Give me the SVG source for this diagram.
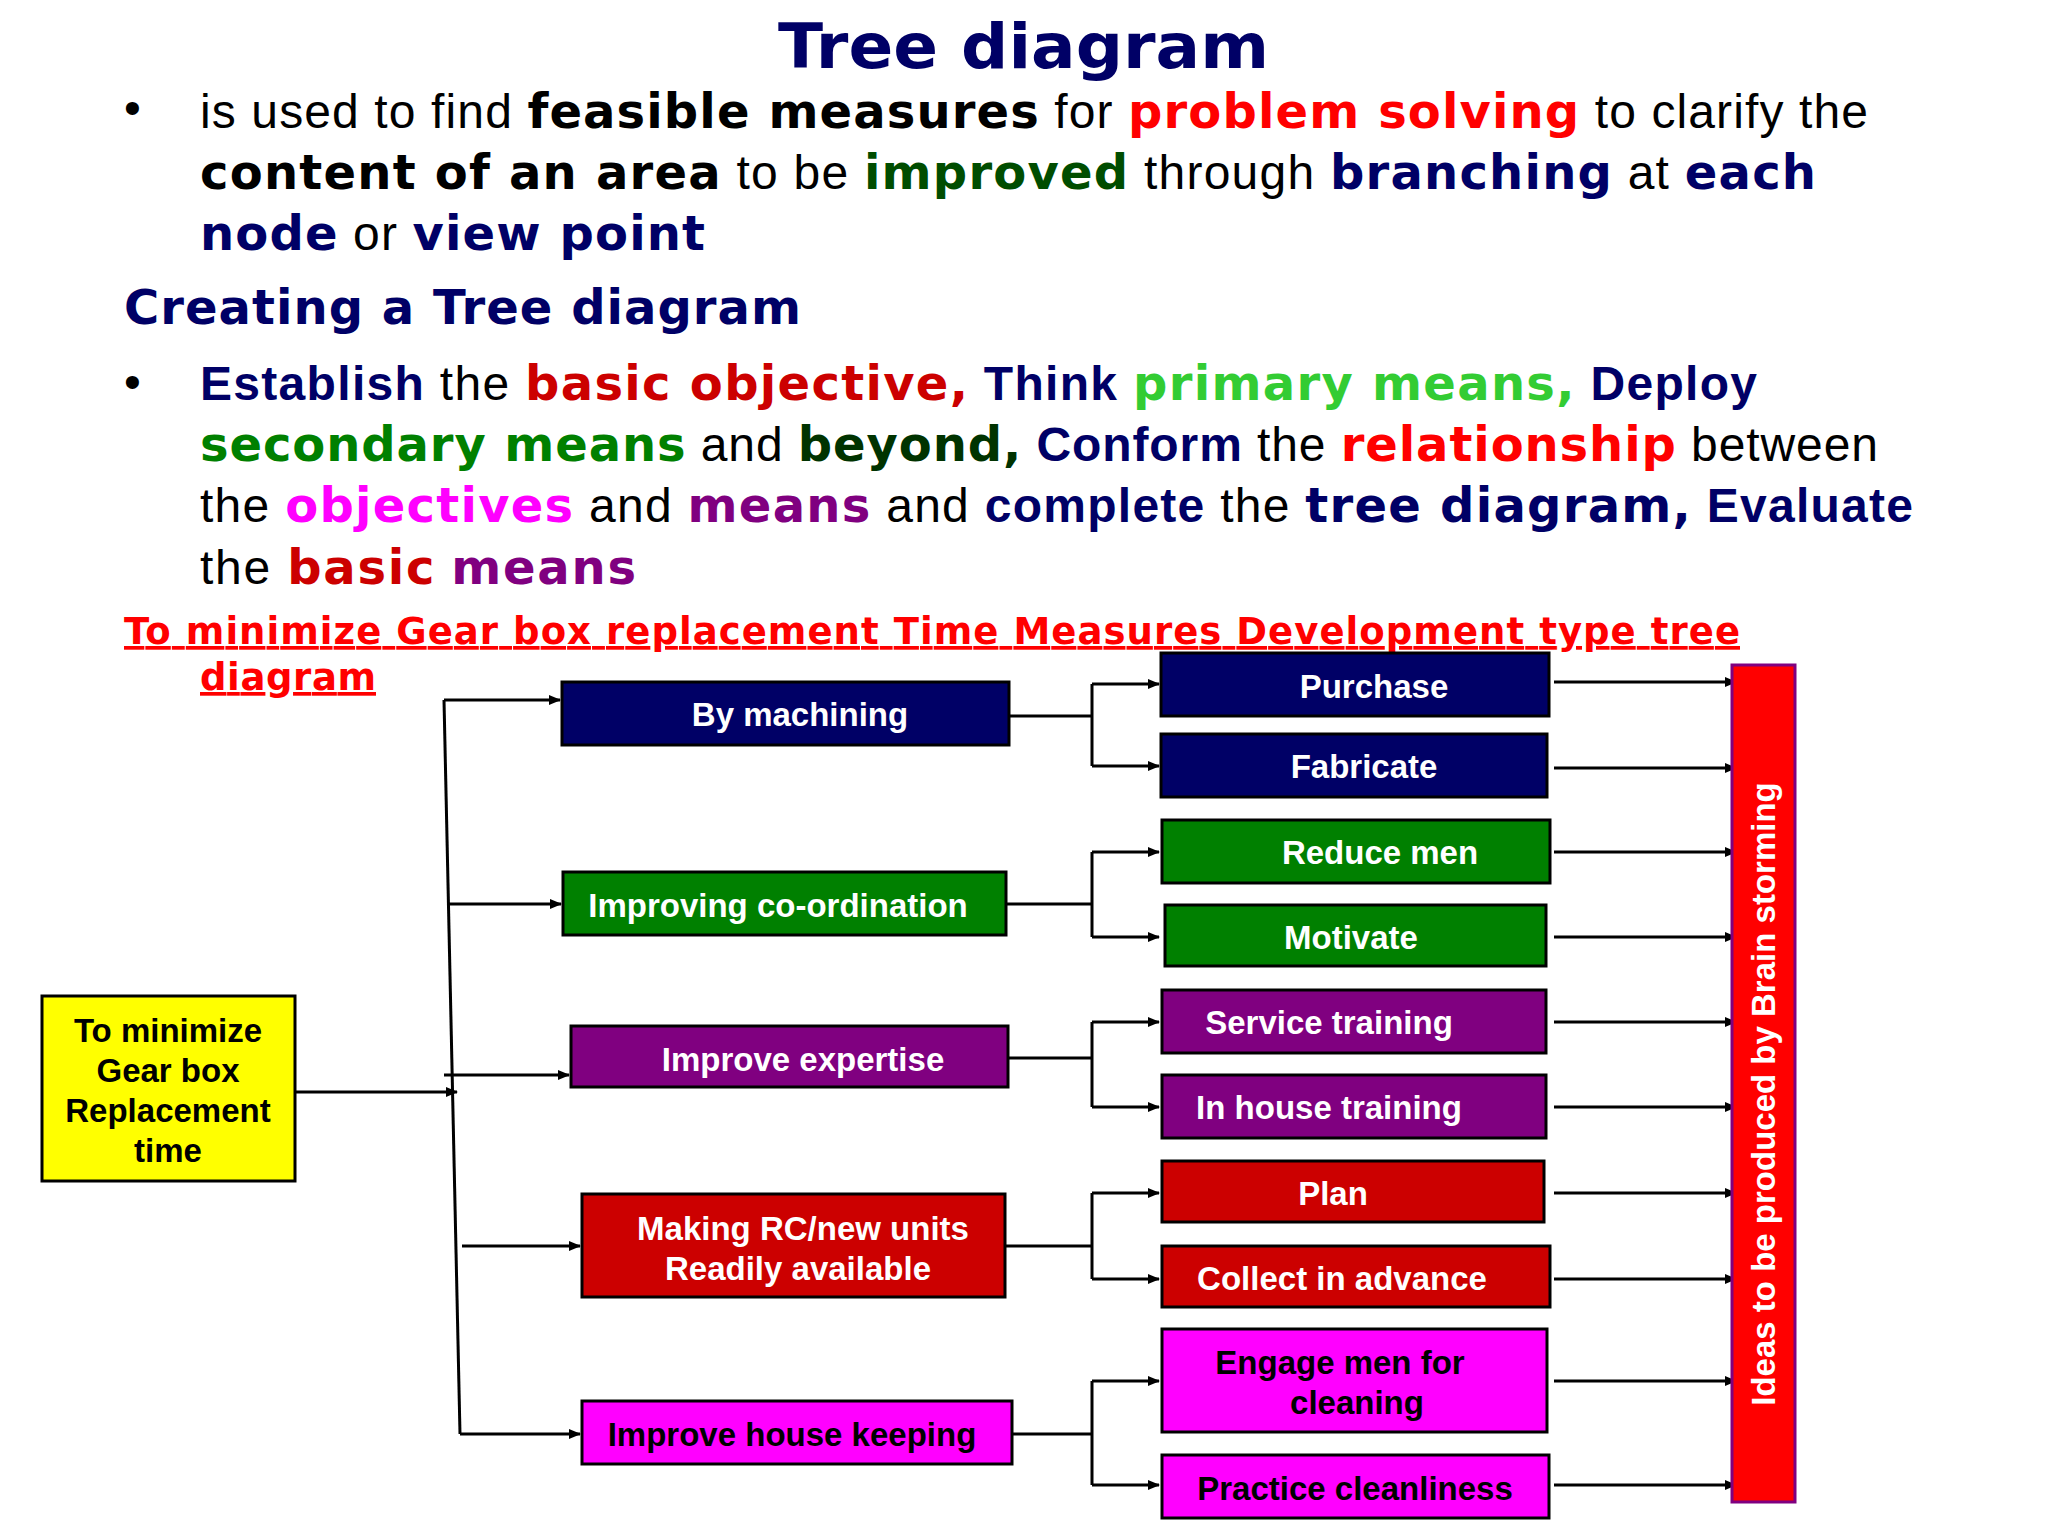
<svg xmlns="http://www.w3.org/2000/svg" width="2048" height="1536" viewBox="0 0 2048 1536">
<style>
.t{font-family:"Liberation Sans",Arial,sans-serif;font-size:48px;fill:#000}
.b{font-family:"DejaVu Sans",Verdana,sans-serif;font-weight:bold}
.ab{font-weight:bold}
.bx{stroke:#000;stroke-width:3}
.lb{font-family:"Liberation Sans",Arial,sans-serif;font-weight:bold;font-size:33px;fill:#fff;text-anchor:middle}
.ln{stroke:#000;stroke-width:3;fill:none}
.nv{fill:#000066}.rd{fill:#ff0000}.dr{fill:#cc0000}.dg{fill:#004d00}.lg{fill:#33cc33}.gr{fill:#008000}.mg{fill:#ff00ff}.pu{fill:#800080}
</style>
<defs><marker id="a" markerWidth="12" markerHeight="10" refX="11" refY="5" orient="auto" markerUnits="userSpaceOnUse"><path d="M0,0 L12,5 L0,10 z" fill="#000"/></marker></defs>
<rect width="2048" height="1536" fill="#fff"/>
<text x="778" y="68" class="b nv" font-size="63" textLength="491" lengthAdjust="spacingAndGlyphs">Tree diagram</text>
<text x="124" y="124" class="t">•</text>
<text x="200" y="128" class="t" textLength="1668">is used to find <tspan class="b">feasible measures</tspan> for <tspan class="b rd">problem solving</tspan> to clarify the</text>
<text x="200" y="189" class="t" textLength="1616"><tspan class="b">content of an area</tspan> to be <tspan class="b dg">improved</tspan> through <tspan class="b nv">branching</tspan> at <tspan class="b nv">each</tspan></text>
<text x="200" y="250" class="t" textLength="505"><tspan class="b nv">node</tspan> or <tspan class="b nv">view point</tspan></text>
<text x="124" y="324" class="t b nv" textLength="677">Creating a Tree diagram</text>
<text x="124" y="398" class="t">•</text>
<text x="200" y="400" class="t" textLength="1557"><tspan class="nv ab">Establish</tspan> the <tspan class="b dr">basic objective,</tspan> <tspan class="nv ab">Think</tspan> <tspan class="b lg">primary means,</tspan> <tspan class="nv ab">Deploy</tspan></text>
<text x="200" y="461" class="t" textLength="1678"><tspan class="b gr">secondary means</tspan> and <tspan class="b" fill="#003300">beyond,</tspan> <tspan class="nv ab">Conform</tspan> the <tspan class="b rd">relationship</tspan> between</text>
<text x="200" y="522" class="t" textLength="1713">the <tspan class="b mg">objectives</tspan> and <tspan class="b pu">means</tspan> and <tspan class="nv ab">complete</tspan> the <tspan class="b nv">tree diagram,</tspan> <tspan class="nv ab">Evaluate</tspan></text>
<text x="200" y="584" class="t" textLength="436">the <tspan class="b dr">basic</tspan> <tspan class="b pu">means</tspan></text>
<text x="124" y="644" class="b rd" font-size="37" text-decoration="underline" textLength="1616">To minimize Gear box replacement Time Measures Development type tree</text>
<text x="200" y="690" class="b rd" font-size="37" text-decoration="underline" textLength="176">diagram</text>

<g id="connectors">
<path class="ln" d="M295,1092 H457" marker-end="url(#a)"/>
<path class="ln" d="M444,700 L460,1434"/>
<path class="ln" d="M444,700 H560" marker-end="url(#a)"/>
<path class="ln" d="M448,904 H561" marker-end="url(#a)"/>
<path class="ln" d="M444,1075 H569" marker-end="url(#a)"/>
<path class="ln" d="M462,1246 H580" marker-end="url(#a)"/>
<path class="ln" d="M460,1434 H580" marker-end="url(#a)"/>
<path class="ln" d="M1009,716 H1092 M1092,684 V766 M1092,684 H1159" marker-end="url(#a)"/>
<path class="ln" d="M1092,766 H1159" marker-end="url(#a)"/>
<path class="ln" d="M1006,904 H1092 M1092,852 V937 M1092,852 H1159" marker-end="url(#a)"/>
<path class="ln" d="M1092,937 H1159" marker-end="url(#a)"/>
<path class="ln" d="M1008,1058 H1092 M1092,1022 V1107 M1092,1022 H1159" marker-end="url(#a)"/>
<path class="ln" d="M1092,1107 H1159" marker-end="url(#a)"/>
<path class="ln" d="M1005,1246 H1092 M1092,1193 V1279 M1092,1193 H1159" marker-end="url(#a)"/>
<path class="ln" d="M1092,1279 H1159" marker-end="url(#a)"/>
<path class="ln" d="M1012,1434 H1092 M1092,1381 V1485 M1092,1381 H1159" marker-end="url(#a)"/>
<path class="ln" d="M1092,1485 H1159" marker-end="url(#a)"/>
<path class="ln" d="M1554,682 H1736" marker-end="url(#a)"/><path class="ln" d="M1554,768 H1736" marker-end="url(#a)"/><path class="ln" d="M1554,852 H1736" marker-end="url(#a)"/><path class="ln" d="M1554,937 H1736" marker-end="url(#a)"/><path class="ln" d="M1554,1022 H1736" marker-end="url(#a)"/><path class="ln" d="M1554,1107 H1736" marker-end="url(#a)"/><path class="ln" d="M1554,1193 H1736" marker-end="url(#a)"/><path class="ln" d="M1554,1279 H1736" marker-end="url(#a)"/><path class="ln" d="M1554,1381 H1736" marker-end="url(#a)"/><path class="ln" d="M1554,1485 H1736" marker-end="url(#a)"/>
</g>

<g id="root"><rect class="bx" x="42" y="996" width="253" height="185" fill="#ffff00"/>
<text class="lb" style="fill:#000" x="168" y="1042">To minimize</text><text class="lb" style="fill:#000" x="168" y="1082">Gear box</text><text class="lb" style="fill:#000" x="168" y="1122">Replacement</text><text class="lb" style="fill:#000" x="168" y="1162">time</text></g>
<g id="l1a"><rect class="bx" x="562" y="682" width="447" height="63" fill="#000066"/><text class="lb" x="800" y="726">By machining</text></g>
<g id="l1b"><rect class="bx" x="563" y="872" width="443" height="63" fill="#008000"/><text class="lb" x="778" y="917">Improving co-ordination</text></g>
<g id="l1c"><rect class="bx" x="571" y="1026" width="437" height="61" fill="#800080"/><text class="lb" x="803" y="1071">Improve expertise</text></g>
<g id="l1d"><rect class="bx" x="582" y="1194" width="423" height="103" fill="#cc0000"/><text class="lb" x="803" y="1240">Making RC/new units</text><text class="lb" x="798" y="1280">Readily available</text></g>
<g id="l1e"><rect class="bx" x="582" y="1401" width="430" height="63" fill="#ff00ff"/><text class="lb" style="fill:#000" x="792" y="1446">Improve house keeping</text></g>

<g id="n1"><rect class="bx" x="1161" y="653" width="388" height="63" fill="#000066"/><text class="lb" x="1374" y="698">Purchase</text></g>
<g id="n2"><rect class="bx" x="1161" y="734" width="386" height="63" fill="#000066"/><text class="lb" x="1364" y="778">Fabricate</text></g>
<g id="n3"><rect class="bx" x="1162" y="820" width="388" height="63" fill="#008000"/><text class="lb" x="1380" y="864">Reduce men</text></g>
<g id="n4"><rect class="bx" x="1165" y="905" width="381" height="61" fill="#008000"/><text class="lb" x="1351" y="949">Motivate</text></g>
<g id="n5"><rect class="bx" x="1162" y="990" width="384" height="63" fill="#800080"/><text class="lb" x="1329" y="1034">Service training</text></g>
<g id="n6"><rect class="bx" x="1162" y="1075" width="384" height="63" fill="#800080"/><text class="lb" x="1329" y="1119">In house training</text></g>
<g id="n7"><rect class="bx" x="1162" y="1161" width="382" height="61" fill="#cc0000"/><text class="lb" x="1333" y="1205">Plan</text></g>
<g id="n8"><rect class="bx" x="1162" y="1246" width="388" height="61" fill="#cc0000"/><text class="lb" x="1342" y="1290">Collect in advance</text></g>
<g id="n9"><rect class="bx" x="1162" y="1329" width="385" height="103" fill="#ff00ff"/><text class="lb" style="fill:#000" x="1340" y="1374">Engage men for</text><text class="lb" style="fill:#000" x="1357" y="1414">cleaning</text></g>
<g id="n10"><rect class="bx" x="1162" y="1455" width="387" height="63" fill="#ff00ff"/><text class="lb" style="fill:#000" x="1355" y="1500">Practice cleanliness</text></g>

<g id="ideas"><rect x="1732" y="665" width="63" height="837" fill="#ff0000" stroke="#800080" stroke-width="3"/>
<text class="lb" transform="translate(1775,1094) rotate(-90)" x="0" y="0">Ideas to be produced by Brain storming</text></g>
</svg>
